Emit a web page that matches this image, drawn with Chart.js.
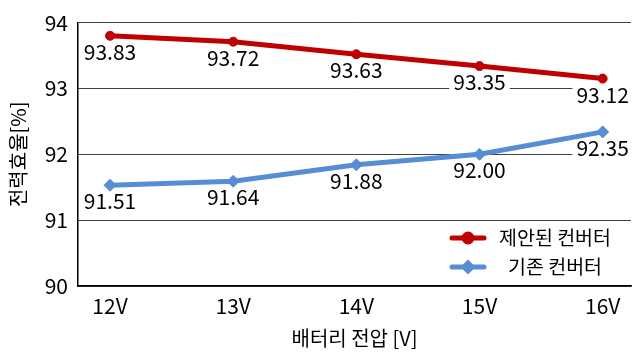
<!DOCTYPE html>
<html>
<head>
<meta charset="utf-8">
<script src="https://cdn.jsdelivr.net/npm/chart.js@4.4.1/dist/chart.umd.min.js"></script>
<style>
  html, body { margin: 0; padding: 0; background: #fff; }
</style>
</head>
<body>
<canvas id="chart" width="638" height="352"></canvas>
<script>
// data
const categories = ['12V', '13V', '14V', '15V', '16V'];
const voltages = [12, 13, 14, 15, 16];
const proposedName = '제안된 컨버터';
const proposedValues = [93.80, 93.71, 93.52, 93.34, 93.15];
const proposedLabels = ['93.83', '93.72', '93.63', '93.35', '93.12'];
const existingName = '기존 컨버터';
const existingValues = [91.53, 91.59, 91.84, 92.00, 92.34];
const existingLabels = ['91.51', '91.64', '91.88', '92.00', '92.35'];
const yMin = 90, yMax = 94, yStep = 1;

const FONT = '"Noto Sans CJK KR", "Noto Sans", sans-serif';
Chart.defaults.font.family = FONT;
Chart.defaults.color = '#000';

// value labels under each point, white box behind
const valueLabels = {
  id: 'valueLabels',
  afterDatasetsDraw(chart) {
    const ctx = chart.ctx;
    ctx.save();
    ctx.font = '21px ' + FONT;
    ctx.textAlign = 'center';
    ctx.textBaseline = 'middle';
    chart.data.datasets.forEach((ds, di) => {
      chart.getDatasetMeta(di).data.forEach((pt, i) => {
        const txt = ds.valueText[i];
        const w = ctx.measureText(txt).width;
        const y = pt.y + 16;
        ctx.fillStyle = '#fff';
        ctx.fillRect(pt.x - w / 2 - 4, y - 8, w + 8, 17);
        ctx.fillStyle = '#000';
        ctx.fillText(txt, pt.x, y);
      });
    });
    ctx.restore();
  }
};

// legend inside the plot, bottom right
const insideLegend = {
  id: 'insideLegend',
  afterDraw(chart) {
    const ctx = chart.ctx;
    const rows = [238, 267];
    ctx.save();
    chart.data.datasets.forEach((ds, i) => {
      const y = rows[i];
      ctx.strokeStyle = ds.borderColor;
      ctx.lineWidth = 5;
      ctx.lineCap = 'round';
      ctx.beginPath(); ctx.moveTo(452, y); ctx.lineTo(484, y); ctx.stroke();
      ctx.fillStyle = ds.borderColor;
      Chart.helpers.drawPoint(ctx, {pointStyle: ds.pointStyle, radius: 4, borderWidth: 1}, 468, y);
      ctx.fill();
      ctx.fillStyle = '#000';
      ctx.font = '19.5px ' + FONT;
      ctx.textAlign = 'center';
      ctx.textBaseline = 'middle';
      ctx.fillText(ds.label, 555, y);
    });
    ctx.restore();
  }
};

new Chart(document.getElementById('chart'), {
  type: 'line',
  data: {
    datasets: [
      {
        label: proposedName,
        data: voltages.map((v, i) => ({x: v, y: proposedValues[i]})),
        valueText: proposedLabels,
        borderColor: '#C00000',
        backgroundColor: '#C00000',
        borderWidth: 5,
        pointStyle: 'circle',
        pointRadius: 4.5,
        pointBorderWidth: 1,
        tension: 0
      },
      {
        label: existingName,
        data: voltages.map((v, i) => ({x: v, y: existingValues[i]})),
        valueText: existingLabels,
        borderColor: '#558ED5',
        backgroundColor: '#558ED5',
        borderWidth: 5,
        pointStyle: 'rectRot',
        pointRadius: 6,
        pointBorderWidth: 1,
        tension: 0
      }
    ]
  },
  options: {
    responsive: false,
    animation: false,
    devicePixelRatio: 1,
    layout: {padding: {top: 17, right: 0, bottom: 0, left: 0}},
    plugins: {legend: {display: false}, tooltip: {enabled: false}},
    scales: {
      x: {
        type: 'linear',
        min: 11.74,
        max: 16.23,
        afterBuildTicks: s => { s.ticks = voltages.map(v => ({value: v})); },
        afterFit: s => { s.height = 66; },
        ticks: {
          callback: v => categories[voltages.indexOf(v)],
          font: {size: 21},
          padding: 7,
          maxRotation: 0
        },
        grid: {display: false, drawTicks: false},
        border: {display: true, color: '#000', width: 1.5},
        title: {display: true, text: '배터리 전압 [V]', font: {size: 20}, padding: {top: 0, bottom: 2}}
      },
      y: {
        min: yMin,
        max: yMax,
        afterFit: s => { s.width = 78; },
        ticks: {stepSize: yStep, font: {size: 21}, padding: 10},
        grid: {color: '#404040', lineWidth: 1, drawTicks: false},
        border: {display: true, color: '#000', width: 1.5},
        title: {display: true, text: '전력효율[%]', font: {size: 20}, padding: {top: 6, bottom: 0}}
      }
    }
  },
  plugins: [valueLabels, insideLegend]
});
</script>
</body>
</html>
